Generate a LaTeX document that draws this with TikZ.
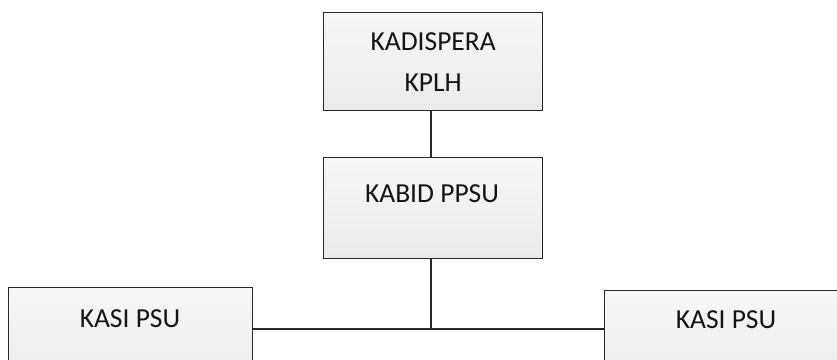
\documentclass[tikz,border=0pt]{standalone}
\usepackage{fontspec}
\setmainfont{Carlito}
\usetikzlibrary{positioning}
\definecolor{boxline}{RGB}{40,40,40}

\tikzset{
  orgbox/.style={draw=boxline, line width=1.3pt, top color=gray!6, bottom color=gray!16,
    minimum width=219pt, minimum height=98pt, inner sep=0pt},
  kasibox/.style={orgbox, minimum width=244pt, minimum height=100pt},
  boxtext/.style={font=\fontsize{27.5}{41}\selectfont, align=center, inner sep=0pt, text=black!92},
  link/.style={draw=boxline, line width=1.1pt}
}

\begin{document}
\begin{tikzpicture}[x=1pt, y=-1pt]
  \useasboundingbox (0,0) rectangle (837,359);
  \clip (0,0) rectangle (837,359);
  % boxes
  \node[orgbox, anchor=north west] (kadis) at (323,12) {};
  \node[orgbox, anchor=north west, minimum height=101pt] (kabid) at (323,157) {};
  \node[kasibox, anchor=north west] (kasiL) at (8,287) {};
  \node[kasibox, anchor=north west] (kasiR) at (604,290) {};
  % texts
  \node[boxtext] (kadisT) at (kadis.center) {KADISPERA\\KPLH};
  \node[boxtext] (kabidT) at (432,194) {KABID PPSU};
  \node[boxtext] (kasiLT) at (130,319) {KASI PSU};
  \node[boxtext] (kasiRT) at (726,320) {KASI PSU};
  % connectors
  \coordinate (joint) at (431,329);
  \path[link] (kadis.south -| joint) -- (kabid.north -| joint);
  \path[link] (kabid.south -| joint) -- (joint);
  \path[link] (kasiL.east |- joint) -- (kasiR.west |- joint);
\end{tikzpicture}
\end{document}
